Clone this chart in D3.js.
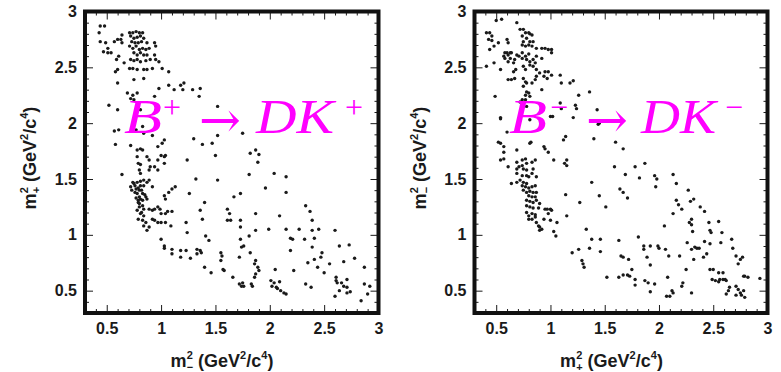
<!DOCTYPE html>
<html>
<head>
<meta charset="utf-8">
<script src="https://cdn.jsdelivr.net/npm/d3@7"></script>
<style>
  body { margin: 0; background: #fff; }
  svg { display: block; }
</style>
</head>
<body>
<svg id="chart" width="781" height="372"></svg>
<script>
// Axis ticks shared by both Dalitz plots (GeV^2/c^4)
const axisDomain = [0.3, 3.0];
const majorTicks = [0.5, 1, 1.5, 2, 2.5, 3];
const majorTickLabels = ["0.5", "1", "1.5", "2", "2.5", "3"];
const minorTicks = [0.3, 0.4, 0.6, 0.7, 0.8, 0.9, 1.1, 1.2, 1.3, 1.4, 1.6, 1.7, 1.8, 1.9,
                    2.1, 2.2, 2.3, 2.4, 2.6, 2.7, 2.8, 2.9];

// B+ -> D K+ candidates: [m_-^2, m_+^2]
const bPlusEvents = [
  [0.44,2.87],[0.48,2.87],[0.43,2.81],[0.44,2.73],[0.49,2.72],[0.51,2.67],[0.47,2.64],[0.51,2.63],[0.54,2.63],
  [0.57,2.73],[0.60,2.75],[0.64,2.79],[0.63,2.75],[0.61,2.60],[0.59,2.57],[0.60,2.48],[0.58,2.46],[0.66,2.54],[0.64,2.72],
  [0.71,2.81],[0.74,2.81],[0.77,2.82],[0.80,2.81],[0.83,2.81],[0.72,2.78],[0.75,2.76],[0.78,2.77],[0.81,2.78],[0.84,2.76],
  [0.73,2.73],[0.76,2.72],[0.79,2.72],[0.82,2.73],[0.87,2.72],[0.94,2.72],[0.95,2.69],[0.71,2.69],[0.74,2.67],[0.77,2.69],
  [0.80,2.66],[0.83,2.67],[0.86,2.66],[0.89,2.67],[0.75,2.63],[0.78,2.61],[0.81,2.63],[0.84,2.61],[0.87,2.61],[0.94,2.61],
  [0.72,2.57],[0.75,2.56],[0.78,2.57],[0.81,2.55],[0.86,2.56],[0.90,2.57],[0.95,2.57],[0.98,2.55],[0.71,2.49],[0.74,2.49],
  [0.78,2.48],[0.84,2.48],[0.87,2.48],[0.92,2.49],[1.01,2.49],[1.07,2.46],[0.75,2.39],[0.84,2.40],[0.60,2.36],[0.69,2.27],
  [0.74,2.25],[0.72,2.22],[0.75,2.21],[0.78,2.27],[0.98,2.31],[1.07,2.34],[1.12,2.30],[1.18,2.34],[1.21,2.36],[1.20,2.30],
  [1.29,2.30],[1.36,2.31],[1.35,2.24],
  [0.52,2.16],[0.60,2.12],[0.57,1.93],[0.61,1.94],[0.58,1.81],[0.72,1.80],[0.77,1.94],[0.84,1.91],[0.83,1.97],[0.92,1.89],
  [0.94,2.24],[0.81,2.12],
  [1.52,2.15],[1.03,1.85],[1.01,1.82],[1.30,1.86],[1.38,1.81],[1.47,1.82],[1.52,1.89],[1.75,1.91],[1.82,1.73],[1.87,1.76],
  [1.90,1.72],[1.89,1.65],[1.81,1.54],[2.04,1.55],[2.15,1.52],[2.15,1.38],[1.96,1.42],[1.73,1.37],[1.67,1.34],[1.52,1.49],
  [1.32,1.50],[1.24,1.67],[1.50,1.71],[1.26,1.37],[1.40,1.29],[1.36,1.22],[1.38,1.14],[1.23,1.11],[1.24,1.02],[1.13,1.43],
  [1.10,1.41],[1.03,1.35],[1.06,1.21],[1.10,1.21],[1.04,1.11],[1.00,1.11],[1.09,1.08],[1.00,0.96],[1.03,0.90],[1.03,0.88],
  [1.10,0.87],[1.10,0.83],[1.18,0.86],[1.23,0.86],[1.18,0.80],[1.27,0.79],[1.33,0.87],[1.36,0.86],[1.33,0.83],[1.37,0.84],
  [1.40,0.71],[1.46,0.66],[1.41,0.99],[1.44,0.95],[1.55,0.84],[1.56,0.81],[1.55,0.77],[1.57,0.69],[1.58,0.68],[1.66,0.62],
  [1.61,1.23],[1.63,1.19],[1.64,1.13],[1.61,1.13],[1.73,1.13],[1.73,1.07],[1.73,0.96],[1.76,0.90],[1.74,0.89],[1.81,0.99],
  [1.87,1.04],[1.87,1.19],[1.82,0.84],[1.87,0.77],[1.86,0.74],[1.89,0.71],[1.90,0.68],[1.87,0.65],[1.86,0.62],[1.83,0.56],
  [1.72,0.80],[1.99,1.05],[2.09,1.17],[2.15,1.05],[2.19,0.97],[2.21,0.96],[2.19,0.86],[2.22,0.68],[2.27,1.05],[2.32,0.96],
  [2.33,1.26],[2.37,1.21],[2.39,1.13],[2.39,1.04],[2.41,0.97],[2.39,0.89],[2.45,1.05],[2.48,0.84],[2.47,0.80],[2.41,0.78],
  [2.35,0.75],[2.44,0.71],[2.50,0.66],[2.55,0.74],[2.60,1.04],[2.64,0.90],[2.61,0.62],[2.61,0.59],[2.62,0.57],[2.66,0.57],
  [2.68,0.54],[2.71,0.60],[2.64,0.50],[2.60,0.45],[2.71,0.53],[2.71,0.48],[2.74,0.49],[2.68,0.76],[2.78,0.79],[2.87,0.71],
  [2.87,0.56],[2.90,0.47],[2.92,0.54],[2.84,0.41],[2.73,0.91],
  [1.72,0.56],[1.75,0.57],[1.76,0.54],[1.74,0.54],[2.01,0.59],[2.04,0.57],[2.02,0.54],[2.06,0.53],[2.07,0.52],[2.10,0.50],
  [2.13,0.48],[2.15,0.47],[2.09,0.58],[2.33,0.56],[2.38,0.53],[1.84,0.54],[2.05,0.69],
  [0.64,1.54],[0.78,1.76],[0.81,1.77],[0.83,1.76],[0.78,1.70],[0.79,1.64],[0.81,1.63],[0.80,1.58],[0.81,1.55],[0.84,1.49],
  [0.89,1.49],[0.74,1.47],[0.75,1.46],[0.72,1.43],[0.77,1.41],[0.80,1.40],[0.78,1.47],[0.81,1.44],[0.84,1.44],[0.87,1.47],
  [0.92,1.43],[0.83,1.37],[0.78,1.37],[0.80,1.34],[0.81,1.32],[0.83,1.31],[0.86,1.34],[0.87,1.32],[0.79,1.29],[0.80,1.25],
  [0.83,1.26],[0.84,1.23],[0.89,1.23],[0.92,1.22],[0.78,1.22],[0.81,1.19],[0.79,1.14],[0.83,1.13],[0.86,1.11],[0.87,1.04],
  [0.89,1.07],[0.94,1.23],[0.97,1.25],[0.99,1.23],[1.00,1.19],[0.92,1.14],[0.94,1.13],[0.97,1.11],[1.04,1.19],[0.84,1.08],
  [0.90,1.61],[0.89,1.58],[0.94,1.61],[0.97,1.58],[0.87,1.70],[0.89,1.67],[0.97,1.67],[1.00,1.71],[1.03,1.64],[1.03,1.70],
  [1.04,1.71],[0.97,1.79],[1.07,1.38],[1.04,1.32],
  [0.73,1.40],[0.76,1.38],[0.79,1.42],[0.82,1.40],[0.77,1.33],[0.80,1.28],[0.82,1.20],[0.84,1.17],[0.85,1.36],[0.79,1.31],
  [0.76,1.44],[0.81,1.48]
];

// B- -> D K- candidates: [m_+^2, m_-^2]
const bMinusEvents = [
  [0.50,2.92],[0.55,2.93],[0.69,2.90],[0.41,2.81],[0.44,2.81],[0.46,2.78],[0.43,2.75],[0.46,2.74],[0.44,2.66],[0.52,2.72],
  [0.48,2.69],[0.60,2.75],[0.61,2.72],[0.41,2.51],[0.48,2.54],[0.54,2.48],[0.58,2.63],[0.57,2.60],[0.60,2.63],[0.61,2.61],
  [0.63,2.63],[0.64,2.63],[0.58,2.58],[0.63,2.58],[0.61,2.55],[0.66,2.54],[0.67,2.57],[0.71,2.60],[0.69,2.61],[0.66,2.46],
  [0.68,2.48],[0.61,2.39],[0.64,2.39],[0.67,2.40],[0.72,2.84],[0.75,2.84],[0.77,2.81],[0.80,2.81],[0.81,2.80],[0.83,2.79],
  [0.74,2.78],[0.78,2.76],[0.75,2.73],[0.81,2.73],[0.84,2.73],[0.74,2.70],[0.77,2.69],[0.80,2.70],[0.83,2.69],[0.87,2.67],
  [0.92,2.67],[0.95,2.67],[0.98,2.66],[1.01,2.66],[1.01,2.63],[0.74,2.63],[0.77,2.60],[0.80,2.62],[0.74,2.58],[0.78,2.57],
  [0.81,2.55],[0.84,2.57],[0.87,2.60],[0.92,2.58],[0.86,2.54],[0.81,2.52],[0.84,2.51],[0.75,2.51],[0.77,2.48],[0.87,2.48],
  [0.90,2.45],[0.95,2.46],[0.98,2.46],[0.97,2.40],[0.94,2.42],[0.87,2.42],[0.75,2.40],[0.77,2.37],[0.78,2.36],[0.75,2.33],
  [0.78,2.28],[0.80,2.27],[0.77,2.25],[0.81,2.24],[0.77,2.21],[0.74,2.21],[0.72,2.19],[0.86,2.39],[0.92,2.30],[1.09,2.43],
  [1.01,2.43],[1.10,2.36],[1.18,2.36],[1.21,2.38],[1.26,2.25],[1.36,2.28],[0.49,2.24],[0.83,2.36],[0.78,2.15],[1.09,2.18],
  [1.10,2.13],[1.23,2.16],[1.24,2.13],[1.21,2.05],[1.43,2.12],
  [0.54,2.05],[0.54,2.04],[0.60,1.92],[0.81,2.03],[0.82,1.83],[0.81,1.82],[1.00,2.06],[1.02,2.06],[1.44,1.99],[1.45,2.00],
  [1.40,1.86],[1.12,1.85],[1.14,1.88],[0.52,1.83],[0.54,1.82],[0.57,1.79],[0.57,1.68],[0.69,1.76],[0.94,1.79],[0.95,1.77],
  [0.98,1.74],[1.03,1.67],[1.13,1.64],[1.15,1.62],[1.15,1.67],
  [1.60,1.83],[1.67,1.77],[1.59,1.61],[1.69,1.54],[1.87,1.64],[1.78,1.61],[1.82,1.51],[1.96,1.53],[1.98,1.50],[1.97,1.43],
  [2.13,1.54],[2.16,1.46],[2.27,1.40],[2.29,1.30],[2.32,1.32],[2.38,1.25],[2.42,1.21],[2.16,1.31],[2.18,1.27],[2.21,1.23],
  [1.64,1.41],[1.67,1.38],[1.71,1.33],[1.38,1.47],[1.45,1.35],[1.51,1.25],[1.27,1.29],[1.14,1.36],[1.15,1.17],[1.06,1.11],
  [1.05,0.99],[1.03,1.03],[1.00,1.23],[1.01,1.22],[1.33,1.05],[1.38,0.96],[1.36,0.88],[1.20,0.84],[1.26,0.87],[1.29,0.77],
  [1.30,0.74],[1.31,0.71],[1.46,0.96],[1.46,0.85],[1.52,0.62],[1.63,0.95],[1.65,0.81],[1.67,0.80],[1.72,0.78],[1.63,0.62],
  [1.67,0.64],[1.71,0.64],[1.73,0.63],[1.78,0.60],[1.75,0.69],[1.78,0.55],[1.81,0.98],[1.86,0.90],[1.86,0.87],[1.89,0.80],
  [1.92,0.73],[1.87,0.59],[1.90,0.57],[1.92,0.49],[1.96,0.56],[1.92,0.90],[1.99,0.90],[2.00,0.88],[2.05,1.08],[2.06,0.87],
  [2.09,0.81],[2.08,0.62],[2.07,0.45],[2.10,0.45],[2.12,0.50],[2.13,0.48],[2.13,1.19],[2.19,0.81],[2.21,0.54],[2.22,0.57],
  [2.25,0.69],[2.26,0.93],[2.28,1.11],[2.30,1.14],[2.30,1.09],[2.31,1.03],[2.30,0.87],[2.32,0.78],[2.33,0.89],[2.35,0.88],
  [2.37,0.88],[2.30,0.48],[2.41,0.80],[2.42,0.94],[2.44,0.83],[2.47,0.92],[2.46,1.11],[2.47,1.04],[2.48,1.02],[2.47,0.69],
  [2.50,0.69],[2.55,0.66],[2.49,0.60],[2.52,0.59],[2.55,0.58],[2.56,0.60],[2.58,1.02],[2.57,0.93],[2.55,1.12],[2.59,0.66],
  [2.67,0.96],[2.68,0.88],[2.71,0.81],[2.73,0.74],[2.75,0.78],[2.77,0.80],[2.78,0.63],[2.79,0.63],[2.82,0.62],[2.93,0.61],
  [2.71,0.54],[2.73,0.51],[2.75,0.48],[2.76,0.46],[2.65,0.53],[2.64,0.50],[2.62,0.47],[2.61,0.60],[2.59,0.60],[2.62,0.59],
  [2.79,0.44],[2.71,0.46],[2.78,0.50],
  [0.69,1.65],[0.74,1.67],[0.77,1.68],[0.71,1.61],[0.74,1.62],[0.78,1.64],[0.83,1.65],[0.86,1.67],[0.75,1.59],[0.78,1.58],
  [0.84,1.59],[0.69,1.55],[0.74,1.53],[0.69,1.47],[0.64,1.46],[0.78,1.53],[0.80,1.52],[0.83,1.55],[0.87,1.52],[0.72,1.49],
  [0.75,1.47],[0.78,1.46],[0.74,1.44],[0.77,1.43],[0.80,1.42],[0.83,1.43],[0.86,1.44],[0.75,1.40],[0.78,1.38],[0.81,1.39],
  [0.84,1.38],[0.87,1.38],[0.80,1.35],[0.83,1.34],[0.86,1.34],[0.78,1.31],[0.81,1.30],[0.84,1.29],[0.87,1.31],[0.90,1.28],
  [0.78,1.26],[0.81,1.25],[0.84,1.24],[0.89,1.24],[0.78,1.20],[0.80,1.17],[0.83,1.19],[0.86,1.18],[0.80,1.14],[0.83,1.14],
  [0.86,1.16],[0.87,1.11],[0.89,1.08],[0.90,1.07],[0.92,1.05],[0.95,1.23],[0.97,1.23],[0.98,1.19],[1.00,1.13],[0.94,1.14],
  [0.90,1.04],[0.54,1.67],[0.57,1.74],[0.61,1.61],[0.69,1.59]
];

const svg = d3.select("#chart");
const tickFont = "'Liberation Sans', Arial, Helvetica, sans-serif";
const ink = "#1a1a1a";
const magenta = "#ff00ff";

// Per-panel layout: frame edges, axis title charges and decay-mode label pieces
const panels = [
  {
    events: bPlusEvents, left: 85, right: 378.5,
    xCharge: "\u2212", yCharge: "+",
    decay: [
      { t: "B", x: 124, y: 133, kind: "letter", len: 38 },
      { t: "+", x: 163, y: 118, kind: "charge" },
      { t: "\u2192", x: 199, y: 137, kind: "arrow" },
      { t: "DK", x: 256, y: 133, kind: "letter", len: 78 },
      { t: "+", x: 345, y: 118, kind: "charge" }
    ]
  },
  {
    events: bMinusEvents, left: 474.5, right: 767.5,
    xCharge: "+", yCharge: "\u2212",
    decay: [
      { t: "B", x: 509, y: 133, kind: "letter", len: 38 },
      { t: "\u2212", x: 550, y: 118, kind: "charge" },
      { t: "\u2192", x: 586, y: 137, kind: "arrow" },
      { t: "DK", x: 641, y: 133, kind: "letter", len: 75 },
      { t: "\u2212", x: 725, y: 118, kind: "charge" }
    ]
  }
];

const frameTop = 11.5, frameBottom = 313;

// m^2 with stacked superscript 2 and charge subscript, followed by units
function axisTitle(sel, charge) {
  sel.append("tspan").text("m");
  sel.append("tspan").attr("font-size", 11).attr("dy", -8).text("2");
  sel.append("tspan").attr("font-size", 11).attr("dx", -6.1).attr("dy", 12).text(charge);
  sel.append("tspan").attr("dy", -4).text(" (GeV");
  sel.append("tspan").attr("font-size", 11).attr("dy", -8).text("2");
  sel.append("tspan").attr("dy", 8).text("/c");
  sel.append("tspan").attr("font-size", 11).attr("dy", -8).text("4");
  sel.append("tspan").attr("dy", 8).text(")");
}

function styleAxis(g) {
  g.select(".domain").remove();
  g.selectAll(".tick line").attr("stroke", ink).attr("stroke-width", 1);
  g.selectAll(".tick text")
    .attr("fill", ink)
    .attr("font-family", tickFont)
    .attr("font-weight", "bold")
    .attr("font-size", 16);
}

panels.forEach(p => {
  const x = d3.scaleLinear().domain(axisDomain).range([p.left, p.right]);
  const y = d3.scaleLinear().domain(axisDomain).range([frameBottom, frameTop]);
  const g = svg.append("g");

  // event markers
  g.append("g")
    .selectAll("circle")
    .data(p.events)
    .join("circle")
    .attr("cx", d => x(d[0]))
    .attr("cy", d => y(d[1]))
    .attr("r", 1.7)
    .attr("fill", ink);

  const label = (d, i) => majorTickLabels[i];

  // inward ticks on all four sides
  g.append("g").attr("transform", `translate(0,${frameBottom})`)
    .call(d3.axisBottom(x).tickValues(majorTicks).tickFormat(label)
      .tickSizeInner(-8).tickSizeOuter(0).tickPadding(10)).call(styleAxis);
  g.append("g").attr("transform", `translate(0,${frameBottom})`)
    .call(d3.axisBottom(x).tickValues(minorTicks).tickFormat("")
      .tickSizeInner(-4).tickSizeOuter(0)).call(styleAxis);
  g.append("g").attr("transform", `translate(0,${frameTop})`)
    .call(d3.axisTop(x).tickValues(majorTicks).tickFormat("")
      .tickSizeInner(-8).tickSizeOuter(0)).call(styleAxis);
  g.append("g").attr("transform", `translate(0,${frameTop})`)
    .call(d3.axisTop(x).tickValues(minorTicks).tickFormat("")
      .tickSizeInner(-4).tickSizeOuter(0)).call(styleAxis);
  g.append("g").attr("transform", `translate(${p.left},0)`)
    .call(d3.axisLeft(y).tickValues(majorTicks).tickFormat(label)
      .tickSizeInner(-8).tickSizeOuter(0).tickPadding(8)).call(styleAxis);
  g.append("g").attr("transform", `translate(${p.left},0)`)
    .call(d3.axisLeft(y).tickValues(minorTicks).tickFormat("")
      .tickSizeInner(-4).tickSizeOuter(0)).call(styleAxis);
  g.append("g").attr("transform", `translate(${p.right},0)`)
    .call(d3.axisRight(y).tickValues(majorTicks).tickFormat("")
      .tickSizeInner(-8).tickSizeOuter(0)).call(styleAxis);
  g.append("g").attr("transform", `translate(${p.right},0)`)
    .call(d3.axisRight(y).tickValues(minorTicks).tickFormat("")
      .tickSizeInner(-4).tickSizeOuter(0)).call(styleAxis);

  // heavy frame
  g.append("rect")
    .attr("x", p.left).attr("y", frameTop)
    .attr("width", p.right - p.left).attr("height", frameBottom - frameTop)
    .attr("fill", "none").attr("stroke", "#111").attr("stroke-width", 4);

  // axis titles
  g.append("text")
    .attr("x", p.left + 137).attr("y", 367)
    .attr("text-anchor", "middle")
    .attr("font-family", tickFont).attr("font-size", 18).attr("font-weight", "bold").attr("fill", ink)
    .call(axisTitle, p.xCharge);
  g.append("text")
    .attr("transform", `translate(${p.left - 49},158) rotate(-90)`)
    .attr("text-anchor", "middle")
    .attr("font-family", tickFont).attr("font-size", 18).attr("font-weight", "bold").attr("fill", ink)
    .call(axisTitle, p.yCharge);

  // decay mode label
  p.decay.forEach(s => {
    const t = g.append("text").attr("x", s.x).attr("y", s.y).attr("fill", magenta).text(s.t);
    if (s.kind === "letter") {
      t.attr("font-family", "'Liberation Serif', 'Times New Roman', serif")
       .attr("font-style", "italic").attr("font-size", 48)
       .attr("textLength", s.len).attr("lengthAdjust", "spacingAndGlyphs");
    } else if (s.kind === "charge") {
      t.attr("font-family", "'Liberation Serif', 'Times New Roman', serif").attr("font-size", 32);
    } else {
      t.attr("font-family", "'DejaVu Serif', serif").attr("font-size", 50);
    }
  });
});
</script>
</body>
</html>
